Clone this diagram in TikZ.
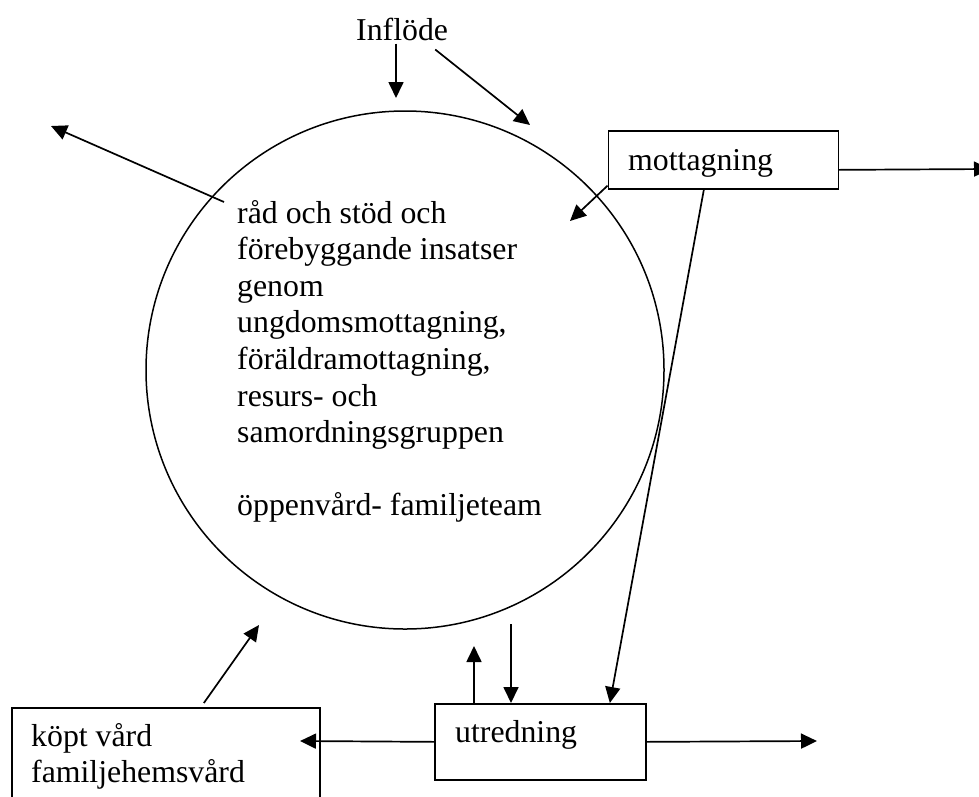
\documentclass[tikz,border=0pt]{standalone}
\usepackage{fontspec}
\setmainfont{Liberation Serif}
\usetikzlibrary{arrows.meta}
\begin{document}
\begin{tikzpicture}[x=1pt,y=-1pt,
  lw/.style={line width=1.7pt},
  arr/.style={lw,-{Triangle[length=16pt,width=15pt]}},
  boxn/.style={draw,lw,rectangle,inner sep=0pt,anchor=north west},
  txt/.style={inner xsep=0pt,inner ysep=3pt,anchor=base west,font=\fontsize{31.8}{36.6}\selectfont},
]
\clip (0,0) rectangle (979,796);
\fill[white] (0,0) rectangle (979,796);

% nodes
\node[draw,line width=1.5pt,circle,minimum size=518pt,inner sep=0pt] (c) at (405,370) {};
\node[txt] (inf) at (356,40) {Inflöde};
\node[txt] (body) at (237,223) {\begin{tabular}[t]{@{}l@{}}råd och stöd och\\ förebyggande insatser\\ genom\\ ungdomsmottagning,\\ föräldramottagning,\\ resurs- och\\ samordningsgruppen\\ \\ öppenvård- familjeteam\end{tabular}};

\node[boxn,minimum width=230pt,minimum height=58pt] (mot) at (607.5,130) {};
\node[txt] (mottxt) at (628,170) {mottagning};

\node[boxn,minimum width=211pt,minimum height=76pt] (utr) at (434,703) {};
\node[txt] (utrtxt) at (455,742) {utredning};

\node[boxn,minimum width=308pt,minimum height=150pt] (kop) at (11,707) {};
\node[txt] (koptxt) at (31,746) {\begin{tabular}[t]{@{}l@{}}köpt vård\\ familjehemsvård\end{tabular}};

% free ends
\coordinate (inA) at (396,98);
\coordinate (inB) at (530,125);
\coordinate (ulS) at (224,202);
\coordinate (ulE) at (51,126);
\coordinate (motR) at (990,169);
\coordinate (motIn) at (570,221);
\coordinate (uU) at (474,646);
\coordinate (uD) at (511,624);
\coordinate (uR) at (817,741);
\coordinate (kopIn) at (300,741);
\coordinate (kopUp) at (259,625);

% connectors
\draw[arr] (inf.south -| inA) -- (inA);
\draw[arr] ([xshift=-13pt,yshift=-6pt]inf.south east) -- (inB);
\draw[arr] (ulS) -- (ulE);
\draw[arr] ([yshift=-10pt]mot.east) -- (motR);
\draw[arr] ([yshift=4pt]mot.south west) -- (motIn);
\draw[arr] ([xshift=-19.5pt]mot.south) -- ([xshift=69.5pt]utr.north);
\draw[arr] (utr.north -| uU) -- (uU);
\draw[arr] (uD) -- (utr.north -| uD);
\draw[arr] (utr.east) -- (uR);
\draw[arr] (utr.west) -- (kopIn);
\draw[arr] ([xshift=38pt,yshift=4pt]kop.north) -- (kopUp);
\end{tikzpicture}
\end{document}
